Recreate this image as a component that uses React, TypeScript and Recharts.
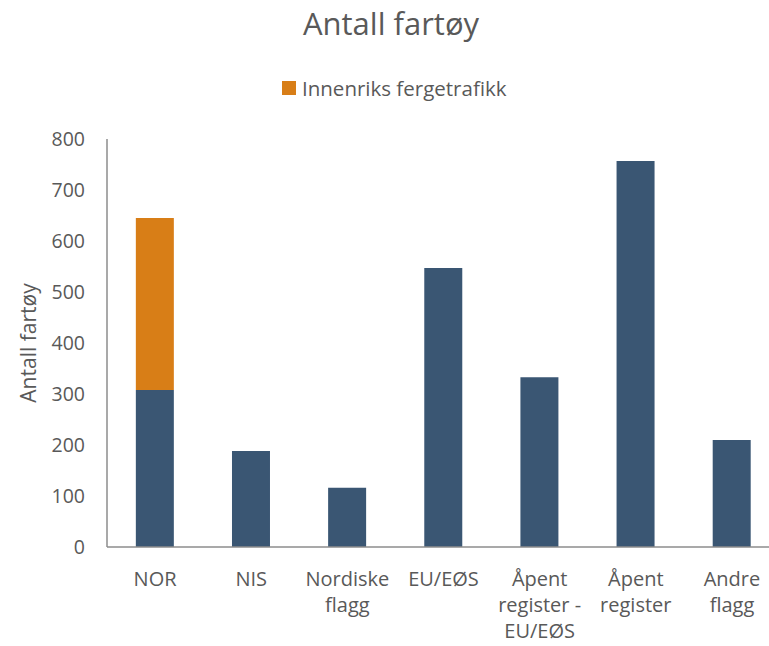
import React from "react";
import { BarChart, Bar, XAxis, YAxis } from "recharts";

const categories = [
  "NOR",
  "NIS",
  "Nordiske\nflagg",
  "EU/EØS",
  "Åpent\nregister -\nEU/EØS",
  "Åpent\nregister",
  "Andre\nflagg",
];
const mainValues = [308, 188, 116, 547, 333, 757, 210];
const fergeValues = [337, 0, 0, 0, 0, 0, 0];
const yTicks = [0, 100, 200, 300, 400, 500, 600, 700, 800];

const data = categories.map((name, i) => ({
  name,
  hoved: mainValues[i],
  ferge: fergeValues[i],
}));

const FONT = "'Open Sans', sans-serif";
const TEXT = "#595959";
const NAVY = "#3A5673";
const ORANGE = "#D87E17";

const XTick = (props: any) => {
  const { x, y, payload } = props;
  const lines = String(payload.value).split("\n");
  return (
    <g transform={`translate(${x},${y})`}>
      {lines.map((l, i) => (
        <text
          key={i}
          x={0}
          y={31 + i * 26}
          textAnchor="middle"
          fill={TEXT}
          fontSize={20}
          fontFamily={FONT}
        >
          {l}
        </text>
      ))}
    </g>
  );
};

const YLabel = (props: any) => {
  const { viewBox } = props;
  const cx = 28;
  const cy = viewBox.y + viewBox.height / 2;
  return (
    <text
      x={cx}
      y={cy}
      transform={`rotate(-90, ${cx}, ${cy})`}
      textAnchor="middle"
      dominantBaseline="central"
      fill={TEXT}
      fontSize={21}
      fontFamily={FONT}
    >
      Antall fartøy
    </text>
  );
};

export default function App() {
  return (
    <div
      style={{
        position: "absolute",
        left: 0,
        top: 0,
        width: 769,
        height: 646,
        overflow: "hidden",
        background: "#fff",
        fontFamily: FONT,
      }}
    >
      <div
        style={{
          position: "absolute",
          top: 2,
          left: 0,
          width: 782,
          textAlign: "center",
          fontSize: 31,
          color: TEXT,
        }}
      >
        Antall fartøy
      </div>
      <div
        style={{
          position: "absolute",
          top: 74,
          left: 282,
          display: "flex",
          alignItems: "center",
          fontSize: 20.5,
          color: TEXT,
        }}
      >
        <span
          style={{
            display: "inline-block",
            width: 14,
            height: 14,
            background: ORANGE,
            marginRight: 6,
          }}
        />
        Innenriks fergetrafikk
      </div>
      <BarChart
        width={780}
        height={646}
        data={data}
        margin={{ top: 139, right: 0, bottom: 0, left: 0 }}
        barCategoryGap="30%"
      >
        <XAxis
          dataKey="name"
          height={99}
          interval={0}
          tickLine={false}
          axisLine={{ stroke: "#8C8C8C", strokeWidth: 1.5 }}
          tick={<XTick />}
        />
        <YAxis
          width={107}
          domain={[0, 800]}
          ticks={yTicks}
          interval={0}
          tickLine={false}
          tickSize={6}
          tickMargin={16}
          axisLine={{ stroke: "#8C8C8C", strokeWidth: 1.5 }}
          tick={{ fill: TEXT, fontSize: 19.5, fontFamily: FONT }}
          label={<YLabel />}
        />
        <Bar dataKey="hoved" stackId="a" fill={NAVY} isAnimationActive={false} />
        <Bar dataKey="ferge" stackId="a" fill={ORANGE} isAnimationActive={false} />
      </BarChart>
    </div>
  );
}
